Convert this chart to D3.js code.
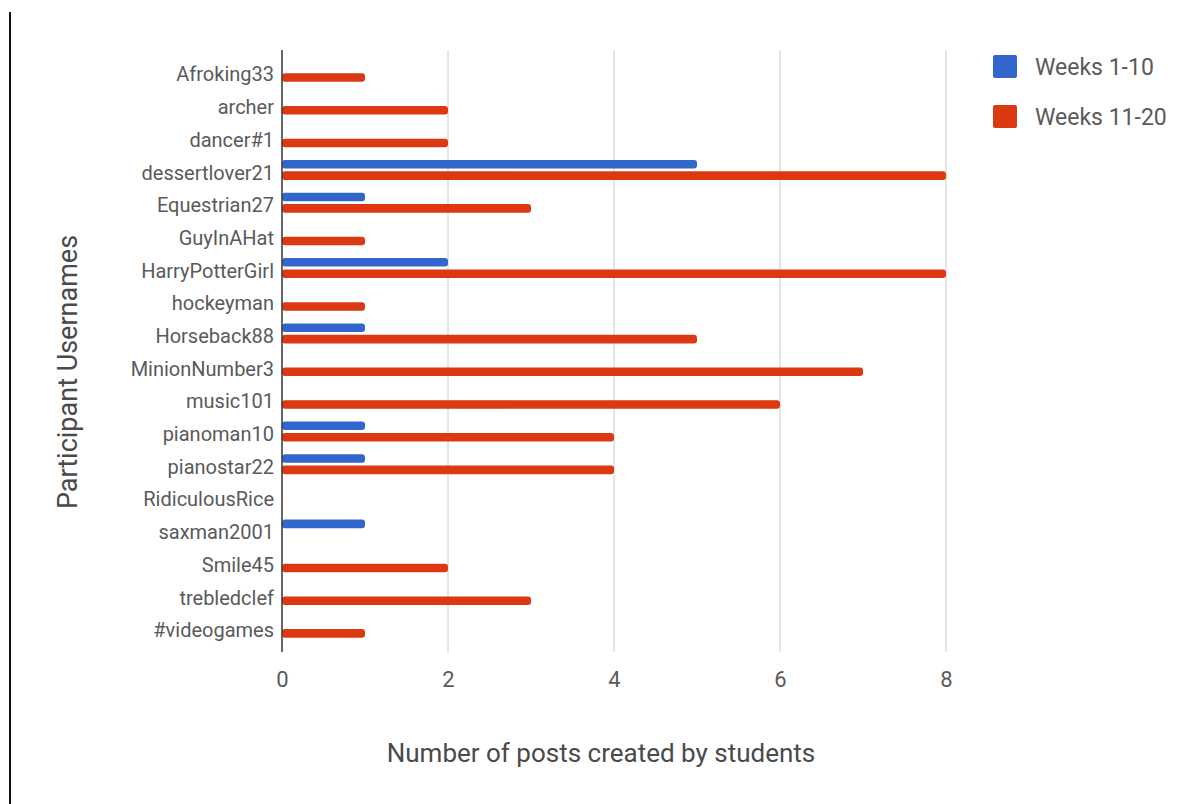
<!DOCTYPE html>
<html>
<head>
<meta charset="utf-8">
<script src="https://cdn.jsdelivr.net/npm/d3@7"></script>
<style>
  body { margin: 0; background: #fff; }
  svg { display: block; font-family: Roboto, "Noto Sans", sans-serif; }
</style>
</head>
<body>
<svg width="1197" height="804"></svg>
<script>
var users = ["Afroking33", "archer", "dancer#1", "dessertlover21", "Equestrian27", "GuyInAHat",
    "HarryPotterGirl", "hockeyman", "Horseback88", "MinionNumber3", "music101", "pianoman10",
    "pianostar22", "RidiculousRice", "saxman2001", "Smile45", "trebledclef", "#videogames"];
var weeks1to10 = [0, 0, 0, 5, 1, 0, 2, 0, 1, 0, 0, 1, 1, 0, 1, 0, 0, 0];
var weeks11to20 = [1, 2, 2, 8, 3, 1, 8, 1, 5, 7, 6, 4, 4, 0, 0, 2, 3, 1];
var seriesNames = ["Weeks 1-10", "Weeks 11-20"];
var seriesColors = ["#3366cc", "#dc3912"];
var xTicks = [0, 2, 4, 6, 8];

var svg = d3.select("svg");

var x = d3.scaleLinear().domain([0, 8]).range([282, 946]);
var y = d3.scaleBand().domain(users).range([55.5, 644]);
var ySub = d3.scaleBand().domain(seriesNames).range([-10, 10]).paddingInner(0.25);
var color = d3.scaleOrdinal().domain(seriesNames).range(seriesColors);

// left border line
svg.append("line")
    .attr("x1", 10).attr("x2", 10)
    .attr("y1", 12).attr("y2", 804)
    .style("stroke", "#111").style("stroke-width", 2);

// gridlines
svg.append("g")
    .selectAll("line")
    .data(xTicks.filter(d => d > 0))
    .enter().append("line")
        .attr("x1", d => x(d)).attr("x2", d => x(d))
        .attr("y1", 50).attr("y2", 652)
        .style("stroke", "#cccccc").style("stroke-width", 1);

// x axis tick labels
var xAxis = d3.axisBottom(x).tickValues(xTicks).tickSize(0).tickPadding(0);
var gx = svg.append("g").attr("transform", "translate(0,687)").call(xAxis);
gx.select(".domain").remove();
gx.selectAll("text")
    .attr("dy", 0)
    .style("font-family", "Roboto")
    .style("font-size", "22px")
    .style("fill", "#5a5a5a");

// bars
var rows = users.map((u, i) => ({ user: u, values: [weeks1to10[i], weeks11to20[i]] }));
var groups = svg.append("g")
    .selectAll("g")
    .data(rows)
    .enter().append("g")
        .attr("transform", d => "translate(0," + (y(d.user) + y.bandwidth() / 2) + ")");

groups.selectAll("rect")
    .data(d => d.values.map((v, j) => ({ name: seriesNames[j], value: v })).filter(s => s.value > 0))
    .enter().append("rect")
        .attr("x", x(0))
        .attr("y", d => ySub(d.name))
        .attr("width", d => x(d.value) - x(0))
        .attr("height", ySub.bandwidth())
        .attr("rx", 3)
        .style("fill", d => color(d.name));

// y axis
var yAxis = d3.axisLeft(y).tickSize(0).tickPadding(8);
var gy = svg.append("g").attr("transform", "translate(282,0)").call(yAxis);
gy.select(".domain").remove();
gy.selectAll("text")
    .attr("dy", "0.48em")
    .style("font-family", "Roboto")
    .style("font-size", "20px")
    .style("fill", "#5a5a5a");

svg.append("line")
    .attr("x1", 282).attr("x2", 282)
    .attr("y1", 50).attr("y2", 652)
    .style("stroke", "#333").style("stroke-width", 1.5);

// axis titles
svg.append("text")
    .attr("x", 601).attr("y", 762)
    .attr("text-anchor", "middle")
    .style("font-size", "26px")
    .style("fill", "#4a4a4a")
    .text("Number of posts created by students");

svg.append("text")
    .attr("transform", "translate(77,372) rotate(-90)")
    .attr("text-anchor", "middle")
    .style("font-size", "27px")
    .style("fill", "#4a4a4a")
    .text("Participant Usernames");

// legend
var legend = svg.append("g")
    .selectAll("g")
    .data(seriesNames)
    .enter().append("g")
        .attr("transform", (d, i) => "translate(993," + (55 + i * 50) + ")");

legend.append("rect")
    .attr("width", 24).attr("height", 23)
    .attr("rx", 2)
    .style("fill", d => color(d));

legend.append("text")
    .attr("x", 42).attr("y", 20)
    .style("font-size", "23px")
    .style("fill", "#5a5a5a")
    .text(d => d);
</script>
</body>
</html>
